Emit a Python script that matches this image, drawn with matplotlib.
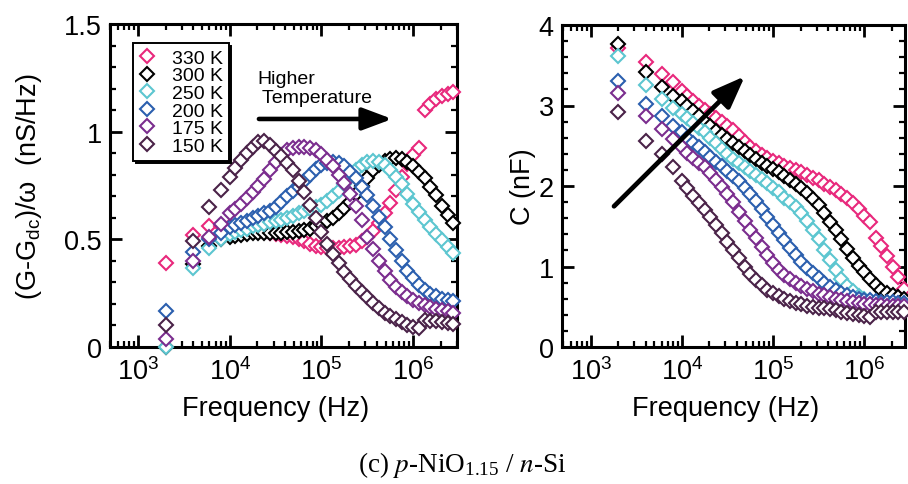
#!/usr/bin/env python3

import matplotlib
matplotlib.use("Agg")
import matplotlib.pyplot as plt
from matplotlib.ticker import LogLocator, MultipleLocator, FormatStrFormatter, NullFormatter

plt.rcParams["font.family"] = ["Liberation Sans", "DejaVu Sans"]
plt.rcParams["mathtext.fontset"] = "custom"
plt.rcParams["mathtext.rm"] = "Liberation Sans"
plt.rcParams["mathtext.it"] = "Liberation Sans:italic"
plt.rcParams["mathtext.default"] = "regular"

# measurement frequencies (Hz)
freq = [2e3, 4e3, 6e3, 8e3,
        10.0e3, 11.5e3, 13.3e3, 15.4e3, 17.8e3, 20.5e3, 23.7e3, 27.4e3,
        31.6e3, 36.5e3, 42.2e3, 48.7e3, 56.2e3, 64.9e3, 75.0e3, 86.6e3,
        100e3, 115e3, 133e3, 154e3, 178e3, 205e3, 237e3, 274e3,
        316e3, 365e3, 422e3, 487e3, 562e3, 649e3, 750e3, 866e3,
        1.00e6, 1.15e6, 1.33e6, 1.54e6, 1.78e6, 2.05e6, 2.37e6, 2.74e6]

labels = ["330 K", "300 K", "250 K", "200 K", "175 K", "150 K"]
colors = ["#e8287c", "#000000", "#5cc6d0", "#2b5fae", "#7b2d8e", "#4a2248"]

# (G-Gdc)/omega, nS/Hz
g330 = [0.39, 0.52, 0.56, 0.56,
        0.56, 0.56, 0.555, 0.55, 0.545, 0.54, 0.535, 0.53,
        0.525, 0.52, 0.515, 0.51, 0.50, 0.49, 0.48, 0.47,
        0.465, 0.46, 0.46, 0.46, 0.465, 0.47, 0.475, 0.49,
        0.51, 0.54, 0.575, 0.62, 0.67, 0.73, 0.79, 0.85,
        0.89, 0.925, 1.10, 1.13, 1.15, 1.165, 1.175, 1.185]
g300 = [0.0, 0.385, 0.47, 0.50,
        0.51, 0.515, 0.52, 0.525, 0.53, 0.53, 0.53, 0.53,
        0.53, 0.53, 0.535, 0.535, 0.54, 0.545, 0.55, 0.56,
        0.57, 0.585, 0.60, 0.62, 0.645, 0.675, 0.71, 0.75,
        0.785, 0.82, 0.845, 0.865, 0.875, 0.88, 0.875, 0.86,
        0.84, 0.815, 0.785, 0.745, 0.705, 0.655, 0.615, 0.575]
g250 = [0.0, 0.365, 0.46, 0.50,
        0.525, 0.535, 0.545, 0.55, 0.56, 0.565, 0.57, 0.58,
        0.585, 0.59, 0.60, 0.61, 0.62, 0.63, 0.64, 0.65,
        0.66, 0.68, 0.70, 0.725, 0.755, 0.79, 0.82, 0.845,
        0.86, 0.865, 0.86, 0.845, 0.82, 0.79, 0.755, 0.71,
        0.665, 0.625, 0.59, 0.555, 0.525, 0.495, 0.465, 0.435]
g200 = [0.165, 0.44, 0.50, 0.53,
        0.555, 0.565, 0.575, 0.585, 0.60, 0.61, 0.62, 0.63,
        0.65, 0.675, 0.70, 0.725, 0.745, 0.77, 0.80, 0.825,
        0.845, 0.855, 0.86, 0.855, 0.84, 0.815, 0.785, 0.745,
        0.705, 0.655, 0.605, 0.555, 0.50, 0.45, 0.40, 0.355,
        0.32, 0.29, 0.265, 0.245, 0.235, 0.225, 0.22, 0.215]
g175 = [0.035, 0.40, 0.51, 0.57,
        0.62, 0.64, 0.665, 0.69, 0.72, 0.75, 0.78, 0.82,
        0.86, 0.89, 0.915, 0.925, 0.93, 0.93, 0.925, 0.915,
        0.895, 0.87, 0.84, 0.80, 0.76, 0.71, 0.655, 0.59,
        0.51, 0.455, 0.40, 0.355, 0.31, 0.28, 0.255, 0.235,
        0.22, 0.205, 0.195, 0.185, 0.175, 0.17, 0.165, 0.16]
g150 = [0.10, 0.49, 0.65, 0.73,
        0.79, 0.83, 0.87, 0.90, 0.93, 0.95, 0.955, 0.94,
        0.91, 0.885, 0.855, 0.82, 0.77, 0.72, 0.66, 0.60,
        0.535, 0.48, 0.43, 0.39, 0.35, 0.315, 0.285, 0.255,
        0.23, 0.205, 0.18, 0.16, 0.145, 0.13, 0.115, 0.10,
        0.095, 0.09, 0.125, 0.12, 0.12, 0.115, 0.11, 0.105]

# capacitance, nF
c330 = [3.71, 3.54, 3.39, 3.29,
        3.18, 3.12, 3.06, 3.00, 2.95, 2.89, 2.84, 2.79,
        2.75, 2.69, 2.62, 2.55, 2.49, 2.44, 2.39, 2.35,
        2.31, 2.28, 2.25, 2.22, 2.20, 2.17, 2.14, 2.10,
        2.07, 2.03, 1.99, 1.95, 1.90, 1.85, 1.79, 1.72,
        1.63, 1.55, 1.36, 1.25, 1.13, 1.00, 0.87, 0.72]
c300 = [3.76, 3.41, 3.23, 3.12,
        3.05, 3.00, 2.93, 2.87, 2.80, 2.74, 2.68, 2.63,
        2.58, 2.53, 2.48, 2.43, 2.38, 2.34, 2.29, 2.25,
        2.21, 2.17, 2.12, 2.07, 2.02, 1.97, 1.91, 1.84,
        1.76, 1.66, 1.55, 1.45, 1.34, 1.22, 1.11, 1.01,
        0.93, 0.84, 0.77, 0.71, 0.67, 0.64, 0.62, 0.60]
c250 = [3.62, 3.25, 3.08, 2.97,
        2.89, 2.84, 2.78, 2.72, 2.67, 2.60, 2.53, 2.46,
        2.40, 2.34, 2.29, 2.24, 2.19, 2.14, 2.09, 2.04,
        1.98, 1.92, 1.85, 1.80, 1.74, 1.66, 1.56, 1.45,
        1.34, 1.21, 1.08, 0.96, 0.85, 0.76, 0.69, 0.63,
        0.60, 0.57, 0.56, 0.55, 0.55, 0.54, 0.54, 0.54]
c200 = [3.31, 3.02, 2.87, 2.75,
        2.67, 2.60, 2.54, 2.48, 2.42, 2.36, 2.30, 2.25,
        2.19, 2.13, 2.06, 1.98, 1.90, 1.81, 1.72, 1.62,
        1.52, 1.42, 1.33, 1.23, 1.14, 1.06, 0.98, 0.92,
        0.86, 0.80, 0.75, 0.71, 0.67, 0.64, 0.62, 0.60,
        0.59, 0.58, 0.57, 0.565, 0.56, 0.555, 0.55, 0.55]
c175 = [3.16, 2.87, 2.71, 2.58,
        2.48, 2.41, 2.35, 2.29, 2.24, 2.16, 2.08, 1.99,
        1.90, 1.80, 1.68, 1.56, 1.45, 1.35, 1.24, 1.14,
        1.04, 0.96, 0.90, 0.85, 0.80, 0.76, 0.72, 0.69,
        0.66, 0.64, 0.62, 0.60, 0.585, 0.57, 0.56, 0.55,
        0.54, 0.53, 0.525, 0.52, 0.515, 0.51, 0.51, 0.505]
c150 = [2.92, 2.56, 2.40, 2.23,
        2.06, 1.97, 1.88, 1.79, 1.70, 1.61, 1.51, 1.41,
        1.30, 1.20, 1.10, 1.00, 0.91, 0.83, 0.77, 0.71,
        0.67, 0.63, 0.60, 0.57, 0.55, 0.53, 0.51, 0.50,
        0.49, 0.48, 0.47, 0.455, 0.44, 0.425, 0.41, 0.40,
        0.39, 0.37, 0.43, 0.43, 0.43, 0.43, 0.43, 0.43]

g_series = [g330, g300, g250, g200, g175, g150]
c_series = [c330, c300, c250, c200, c175, c150]

TICK_FS = 19.5
LABEL_FS = 19.5


def style_axes(ax, xlim):
    ax.set_xscale("log")
    ax.set_xlim(*xlim)
    ax.xaxis.set_major_locator(LogLocator(base=10, numticks=10))
    ax.xaxis.set_minor_locator(LogLocator(base=10, subs=range(2, 10), numticks=20))
    ax.xaxis.set_minor_formatter(NullFormatter())
    for s in ax.spines.values():
        s.set_linewidth(2.2)
    ax.tick_params(which="both", direction="in", top=True, right=True,
                   labelsize=TICK_FS)
    ax.tick_params(which="major", length=8.5, width=2.0)
    ax.tick_params(which="minor", length=4.5, width=1.6)
    ax.tick_params(axis="x", which="major", pad=7)
    ax.tick_params(axis="y", which="major", pad=6)


def draw_series(ax, series):
    for vals, lab, col in zip(series, labels, colors):
        ax.plot(freq, vals, ls="none", marker="D", ms=7.6, mfc="white",
                mec=col, mew=1.5, label=lab, clip_on=False, zorder=3)


fig = plt.figure(figsize=(9.08, 4.85), dpi=100)
ax1 = fig.add_axes([110 / 908, 137 / 485, 347 / 908, 323 / 485])
ax2 = fig.add_axes([562 / 908, 137 / 485, 343 / 908, 322 / 485])

# left: loss
style_axes(ax1, (495, 3.0e6))
draw_series(ax1, g_series)
ax1.set_ylim(0, 1.5)
ax1.yaxis.set_major_locator(MultipleLocator(0.5))
ax1.yaxis.set_minor_locator(MultipleLocator(0.1))
ax1.yaxis.set_major_formatter(FormatStrFormatter("%g"))
ax1.set_xlabel("Frequency (Hz)", fontsize=LABEL_FS)
ax1.xaxis.set_label_coords(0.478, -0.15)
ax1.set_ylabel("(G-G$_{dc}$)/\u03c9  (nS/Hz)", fontsize=LABEL_FS)
ax1.yaxis.set_label_coords(-0.19, 0.5)

leg = ax1.legend(loc="upper left", bbox_to_anchor=(0.066, 0.94),
                 borderaxespad=0, fontsize=14, handlelength=0.9,
                 handletextpad=0.8, labelspacing=0.0, borderpad=0.3,
                 fancybox=False, edgecolor="black", markerscale=0.95,
                 shadow={"color": "black", "alpha": 1.0})
leg.get_frame().set_linewidth(1.4)

ax1.text(2.0e4, 1.285, "Higher\n Temperature", fontsize=14, va="top",
         ha="left", linespacing=1.1)
ax1.annotate("", xy=(5.9e5, 1.059), xytext=(2.08e4, 1.059),
             arrowprops=dict(arrowstyle="-|>,head_length=1.2,head_width=0.45",
                             mutation_scale=15, lw=3.3, color="black",
                             shrinkA=0, shrinkB=0))

# right: capacitance
style_axes(ax2, (484, 2.8e6))
draw_series(ax2, c_series)
ax2.set_ylim(0, 4)
ax2.yaxis.set_major_locator(MultipleLocator(1))
ax2.yaxis.set_minor_locator(MultipleLocator(0.2))
ax2.yaxis.set_major_formatter(FormatStrFormatter("%g"))
ax2.set_xlabel("Frequency (Hz)", fontsize=LABEL_FS)
ax2.xaxis.set_label_coords(0.478, -0.15)
ax2.set_ylabel("C (nF)", fontsize=LABEL_FS)
ax2.yaxis.set_label_coords(-0.075, 0.5)

ax2.annotate("", xy=(4.9e4, 3.363), xytext=(1.8e3, 1.748),
             arrowprops=dict(arrowstyle="-|>,head_length=1.3,head_width=0.5",
                             mutation_scale=15, lw=3.4, color="black",
                             shrinkA=0, shrinkB=0), zorder=4)

fig.text(462 / 908, 1 - 472 / 485,
         r"(c) $\mathit{p}$-NiO$_{1.15}$ / $\mathit{n}$-Si",
         ha="center", va="baseline", fontsize=19.5,
         family="Liberation Serif", math_fontfamily="stix")

fig.savefig("out.png", dpi=100)
